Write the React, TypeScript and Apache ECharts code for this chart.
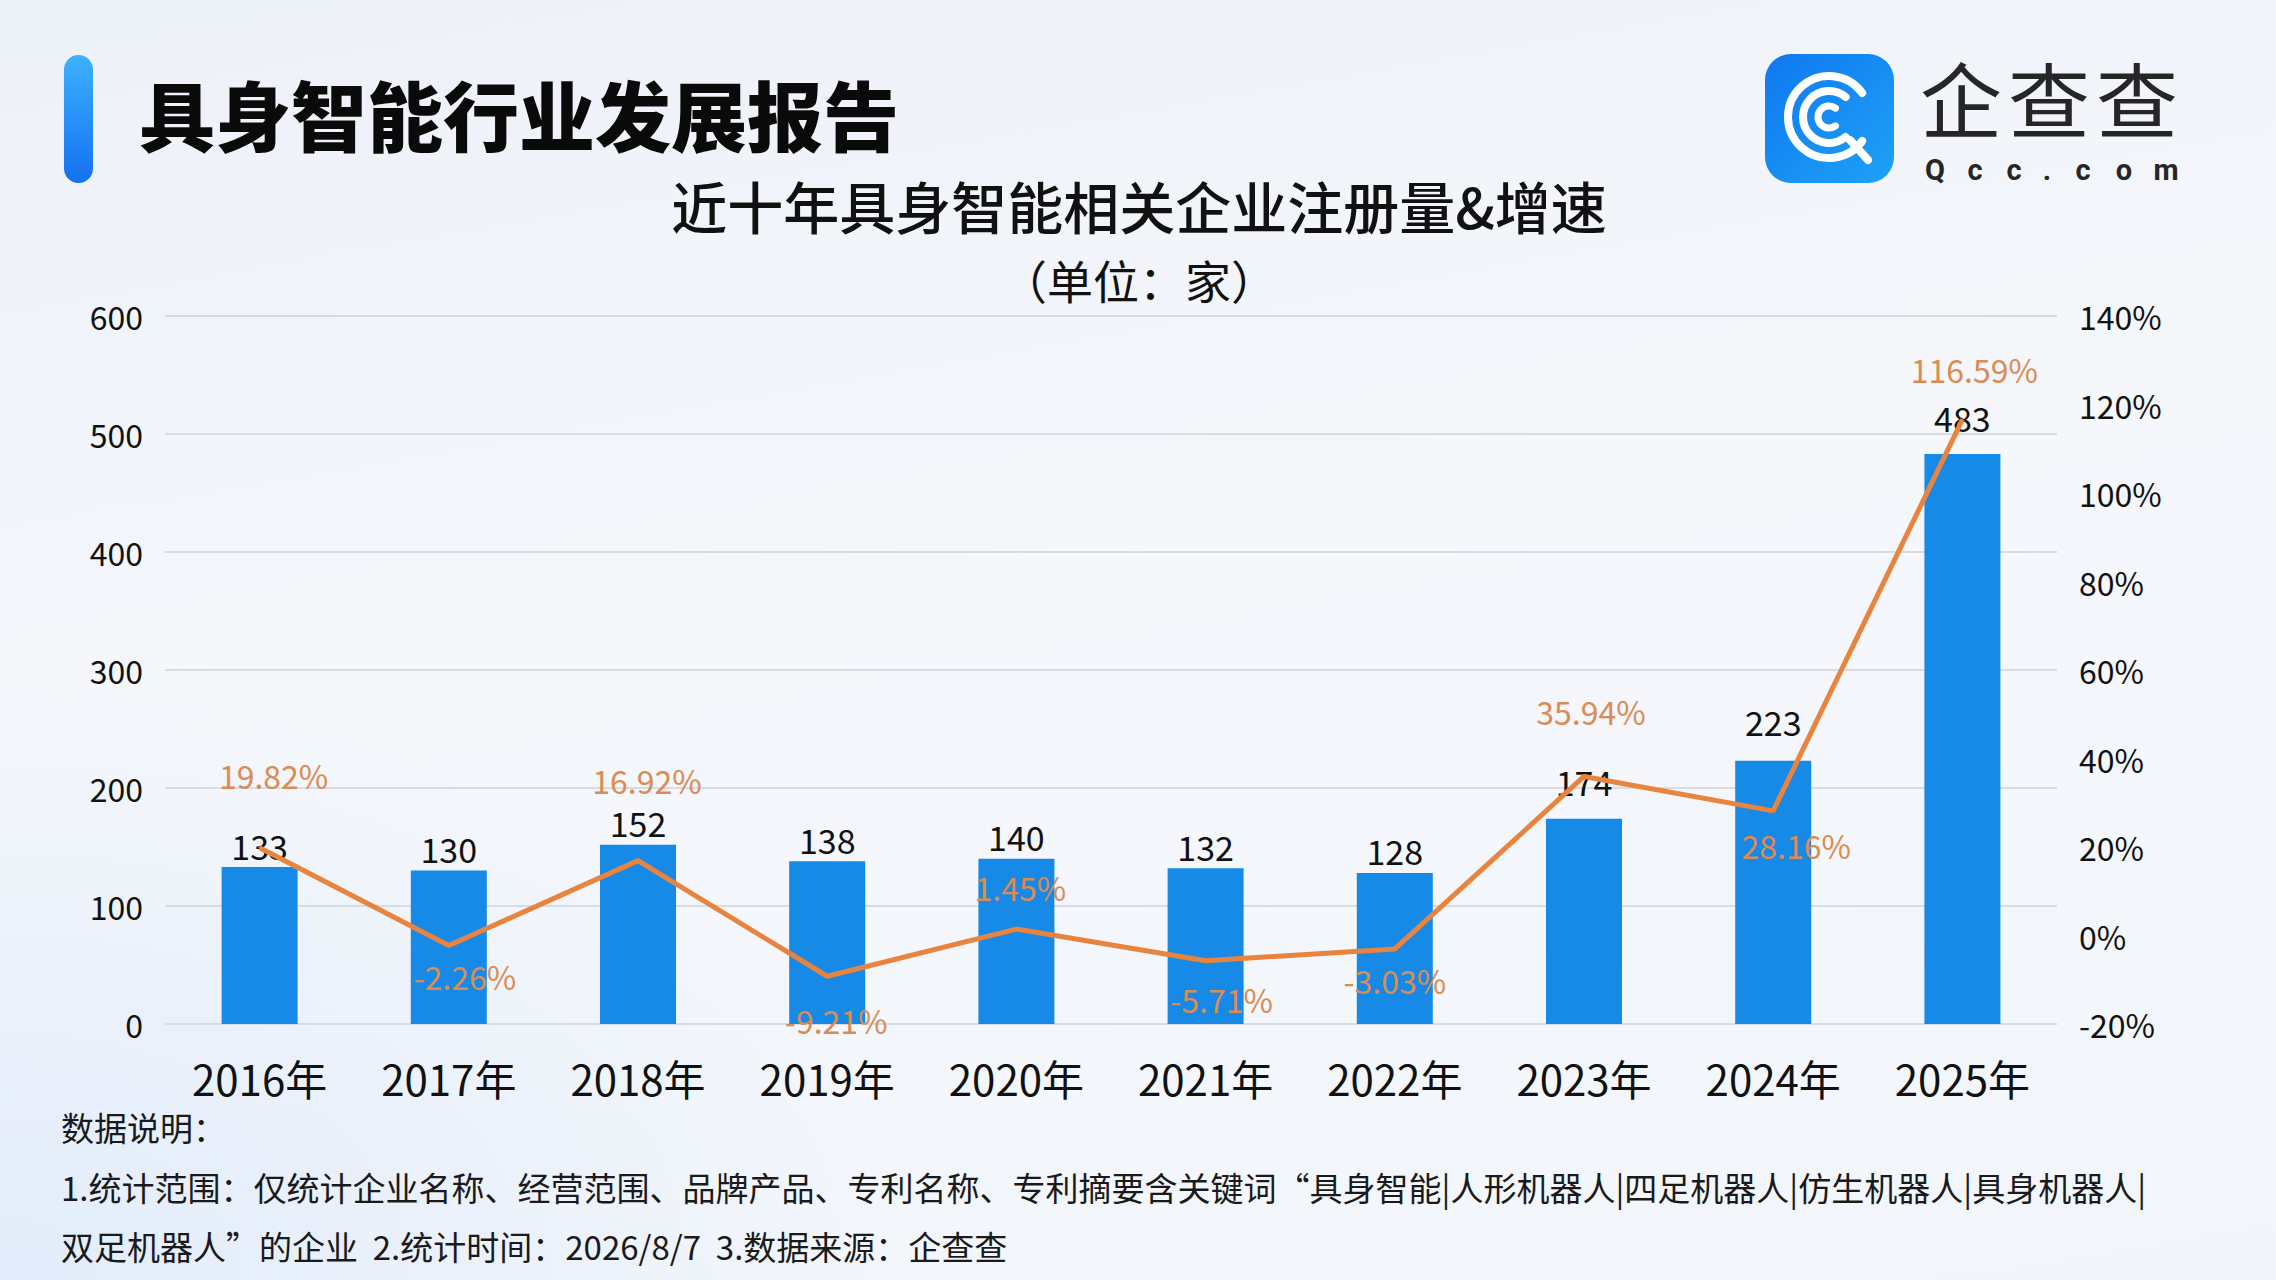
import React, { useEffect, useRef } from "react";
import * as echarts from "echarts";

const categories = ["2016年", "2017年", "2018年", "2019年", "2020年", "2021年", "2022年", "2023年", "2024年", "2025年"];
const registrations = [133, 130, 152, 138, 140, 132, 128, 174, 223, 483];
const growthRates = [19.82, -2.26, 16.92, -9.21, 1.45, -5.71, -3.03, 35.94, 28.16, 116.59];

const mainTitle = "具身智能行业发展报告";
const chartTitle = "近十年具身智能相关企业注册量&增速";
const chartSubtitle = "（单位：家）";
const noteLines = [
  "数据说明：",
  "1.统计范围：仅统计企业名称、经营范围、品牌产品、专利名称、专利摘要含关键词“具身智能|人形机器人|四足机器人|仿生机器人|具身机器人|",
  "双足机器人”的企业  2.统计时间：2026/8/7  3.数据来源：企查查",
];
const logoName = ["企", "查", "查"];
const logoDomain = ["Q", "c", "c", ".", "c", "o", "m"];

const FONT = "'Noto Sans CJK SC', 'Noto Sans', sans-serif";

export default function App() {
  const ref = useRef<HTMLDivElement>(null);

  useEffect(() => {
    if (!ref.current) return;
    const chart = echarts.init(ref.current, null, { renderer: "svg" });

    // label placement per point of the growth line (style only)
    const lineLabelPlace: Array<[string, number, number]> = [
      ["top", 56, 14],
      ["bottom", 13, 16],
      ["top", 64, 9],
      ["bottom", 27, 9],
      ["top", 25, 4],
      ["bottom", 21, 16],
      ["bottom", 14, 0],
      ["top", 48, 7],
      ["bottom", 17, 23],
      ["top", 34, 12],
    ];
    const barLabelDistance = [5, 5, 5, 5, 5, 5, 5, 20, 22, 20];

    const barData = registrations.map((v, i) => ({
      value: v,
      label: { distance: barLabelDistance[i] },
    }));
    const lineData = growthRates.map((v, i) => ({
      value: v,
      label: {
        position: lineLabelPlace[i][0],
        distance: lineLabelPlace[i][1],
        offset: [lineLabelPlace[i][2], 0],
      },
    }));

    const nameX = [1961, 2049, 2137];
    const domainX = [1935, 1975, 2014, 2047, 2083, 2124, 2166];

    chart.setOption({
      animation: false,
      backgroundColor: "transparent",
      textStyle: { fontFamily: FONT },
      grid: { left: 165, right: 219, top: 316, bottom: 256, containLabel: false },
      xAxis: {
        type: "category",
        data: categories,
        axisLine: { show: false },
        axisTick: { show: false },
        axisLabel: { color: "#111", fontSize: 42, margin: 32, fontFamily: FONT },
      },
      yAxis: [
        {
          type: "value",
          min: 0,
          max: 600,
          interval: 100,
          axisLine: { show: false },
          axisTick: { show: false },
          axisLabel: { color: "#111", fontSize: 32, margin: 22, fontFamily: FONT },
          splitLine: { lineStyle: { color: "#d6dbe4", width: 2 } },
        },
        {
          type: "value",
          min: -20,
          max: 140,
          interval: 20,
          axisLine: { show: false },
          axisTick: { show: false },
          axisLabel: { color: "#111", fontSize: 32, margin: 22, formatter: "{value}%", fontFamily: FONT },
          splitLine: { show: false },
        },
      ],
      series: [
        {
          type: "bar",
          data: barData,
          barWidth: 76,
          itemStyle: { color: "#1789e7" },
          label: {
            show: true,
            position: "top",
            color: "#111",
            fontSize: 34,
            fontFamily: FONT,
          },
          z: 2,
        },
        {
          type: "line",
          yAxisIndex: 1,
          data: lineData,
          symbol: "circle",
          symbolSize: 2,
          itemStyle: { color: "#e8843d" },
          lineStyle: { color: "#e8843d", width: 5 },
          label: {
            show: true,
            color: "#dc8b52",
            fontSize: 32,
            fontFamily: FONT,
            formatter: (p: any) => `${Number(p.value).toFixed(2)}%`,
          },
          z: 5,
        },
      ],
      graphic: [
        {
          type: "rect",
          shape: { x: 64, y: 55, width: 29, height: 128, r: 14.5 },
          style: {
            fill: new echarts.graphic.LinearGradient(0, 0, 0, 1, [
              { offset: 0, color: "#3db2ff" },
              { offset: 1, color: "#1470f0" },
            ]),
          },
        },
        {
          type: "text",
          style: {
            text: mainTitle,
            x: 139,
            y: 113,
            textAlign: "left",
            textVerticalAlign: "middle",
            fill: "#0a0a0a",
            font: `900 76px ${FONT}`,
          },
        },
        {
          type: "text",
          style: {
            text: chartTitle,
            x: 1139,
            y: 204,
            textAlign: "center",
            textVerticalAlign: "middle",
            fill: "#111",
            font: `500 56px ${FONT}`,
          },
        },
        {
          type: "text",
          style: {
            text: chartSubtitle,
            x: 1139,
            y: 279,
            textAlign: "center",
            textVerticalAlign: "middle",
            fill: "#111",
            font: `400 46px ${FONT}`,
          },
        },
        {
          type: "rect",
          shape: { x: 1765, y: 54, width: 129, height: 129, r: 26 },
          style: {
            fill: new echarts.graphic.LinearGradient(0, 0, 1, 1, [
              { offset: 0, color: "#0f78f0" },
              { offset: 1, color: "#1ea2f6" },
            ]),
          },
        },
        {
          type: "arc",
          shape: { cx: 1829, cy: 117, r: 41, startAngle: Math.PI * 0.2, endAngle: Math.PI * 1.8, clockwise: true },
          style: { stroke: "#fff", lineWidth: 8, fill: "none", lineCap: "round" },
        },
        {
          type: "arc",
          shape: { cx: 1829, cy: 117, r: 26, startAngle: Math.PI * 0.28, endAngle: Math.PI * 1.72, clockwise: true },
          style: { stroke: "#fff", lineWidth: 8, fill: "none", lineCap: "round" },
        },
        {
          type: "arc",
          shape: { cx: 1829, cy: 117, r: 11, startAngle: Math.PI * 0.3, endAngle: Math.PI * 1.7, clockwise: true },
          style: { stroke: "#fff", lineWidth: 7, fill: "none", lineCap: "round" },
        },
        {
          type: "line",
          shape: { x1: 1850, y1: 140, x2: 1868, y2: 160 },
          style: { stroke: "#fff", lineWidth: 8, lineCap: "round" },
        },
        ...logoName.map((ch, i) => ({
          type: "text",
          style: {
            text: ch,
            x: nameX[i],
            y: 96,
            textAlign: "center",
            textVerticalAlign: "middle",
            fill: "#262626",
            font: `400 82px ${FONT}`,
          },
        })),
        ...logoDomain.map((ch, i) => ({
          type: "text",
          style: {
            text: ch,
            x: domainX[i],
            y: 170,
            textAlign: "center",
            textVerticalAlign: "middle",
            fill: "#262626",
            font: `700 29px Roboto, ${FONT}`,
          },
        })),
        ...noteLines.map((t, i) => ({
          type: "text",
          style: {
            text: t,
            x: 61,
            y: [1127, 1187, 1246][i],
            textAlign: "left",
            textVerticalAlign: "middle",
            fill: "#1a1a1a",
            font: `400 33px ${FONT}`,
          },
        })),
      ],
    });

    return () => chart.dispose();
  }, []);

  return (
    <div
      style={{
        position: "fixed",
        left: 0,
        top: 0,
        width: 2276,
        height: 1280,
        background:
          "radial-gradient(ellipse 900px 600px at 0% 100%, #e2ecfa 0%, rgba(226,236,250,0) 100%), linear-gradient(170deg, #edf1f8 0%, #f5f7fb 45%, #f2f6fc 100%)",
      }}
    >
      <div ref={ref} style={{ width: 2276, height: 1280 }} />
    </div>
  );
}
